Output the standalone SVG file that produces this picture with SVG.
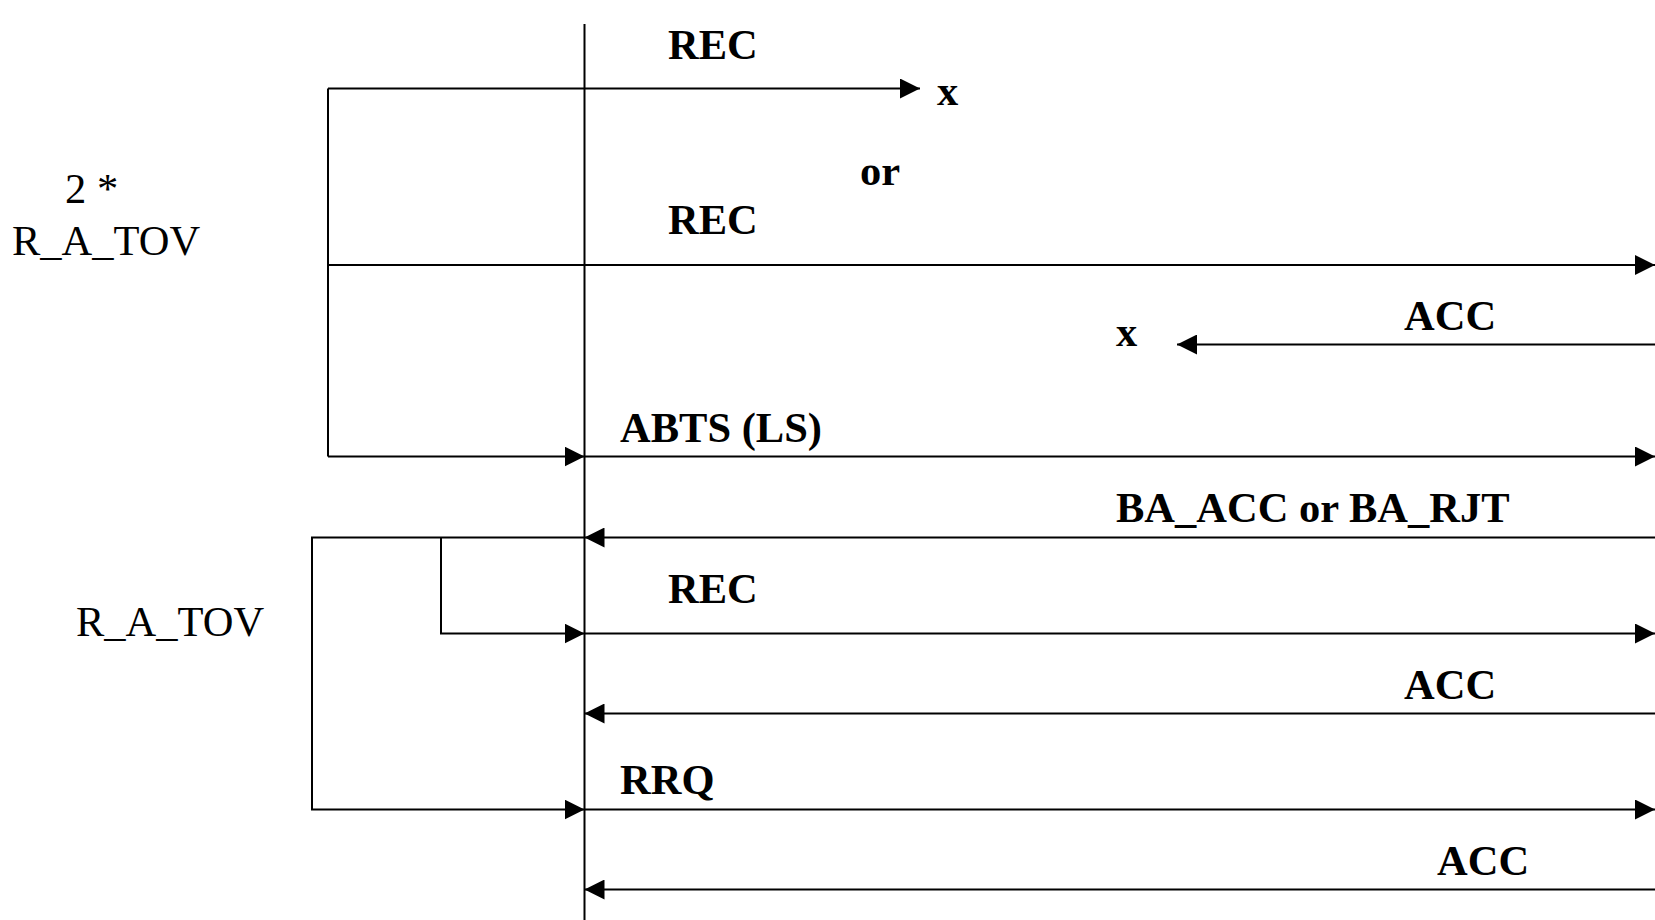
<svg xmlns="http://www.w3.org/2000/svg" width="1655" height="920" viewBox="0 0 1655 920">
<style>
.ln{fill:none;stroke:#000;stroke-width:2}
.b{font-family:"Liberation Serif","Times New Roman",serif;font-weight:bold;font-size:42.5px;fill:#000}
.r{font-family:"Liberation Serif","Times New Roman",serif;font-size:42.5px;fill:#000}
</style>
<defs>
<marker id="ah" markerUnits="userSpaceOnUse" markerWidth="20" markerHeight="20" refX="20" refY="10" orient="auto" viewBox="0 0 20 20">
<path d="M0,0 L20,10 L0,20 z" fill="#000"/>
</marker>
</defs>
<rect width="1655" height="920" fill="#fff"/>
<g id="lifeline">
<line class="ln" x1="584.5" y1="24" x2="584.5" y2="920"/>
</g>
<g id="connectors">
<path class="ln" d="M328,88.5 H920" marker-end="url(#ah)"/>
<path class="ln" d="M328,88.5 V456.5"/>
<path class="ln" d="M328,265 H1655" marker-end="url(#ah)"/>
<path class="ln" d="M1655,344.5 H1177" marker-end="url(#ah)"/>
<path class="ln" d="M328,456.5 H584.5" marker-end="url(#ah)"/>
<path class="ln" d="M584.5,456.5 H1655" marker-end="url(#ah)"/>
<path class="ln" d="M1655,537.5 H584.5" marker-end="url(#ah)"/>
<path class="ln" d="M584.5,537.5 H312 V809.5 H584.5" marker-end="url(#ah)"/>
<path class="ln" d="M441,537.5 V633.5 H584.5" marker-end="url(#ah)"/>
<path class="ln" d="M584.5,633.5 H1655" marker-end="url(#ah)"/>
<path class="ln" d="M1655,713.5 H584.5" marker-end="url(#ah)"/>
<path class="ln" d="M584.5,809.5 H1655" marker-end="url(#ah)"/>
<path class="ln" d="M1655,889.5 H584.5" marker-end="url(#ah)"/>
</g>
<g id="labels">
<text class="b" x="668" y="59">REC</text>
<text class="b" x="937" y="105">x</text>
<text class="b" x="860" y="185">or</text>
<text class="b" x="668" y="234">REC</text>
<text class="b" x="1404" y="330">ACC</text>
<text class="b" x="1116" y="346">x</text>
<text class="b" x="620" y="442">ABTS (LS)</text>
<text class="b" x="1116" y="522">BA_ACC or BA_RJT</text>
<text class="b" x="668" y="603">REC</text>
<text class="b" x="1404" y="699">ACC</text>
<text class="b" x="620" y="794">RRQ</text>
<text class="b" x="1437" y="875">ACC</text>
</g>
<g id="timer-2ratov">
<text class="r" x="65" y="203">2 *</text>
<text class="r" x="12" y="255">R_A_TOV</text>
</g>
<g id="timer-ratov">
<text class="r" x="76" y="636">R_A_TOV</text>
</g>
</svg>
